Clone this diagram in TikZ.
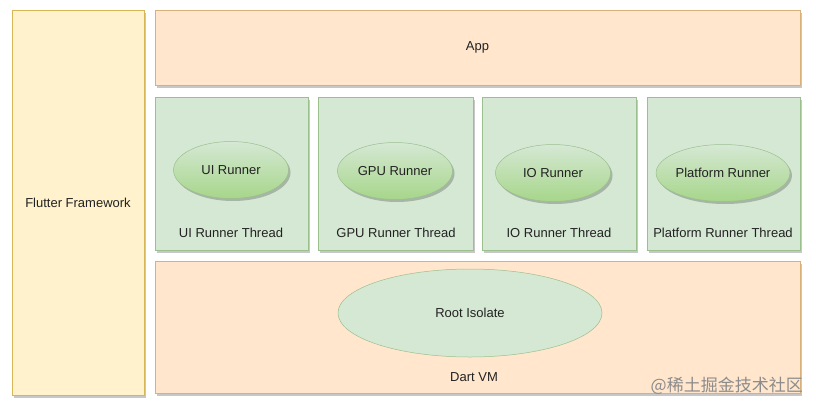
\documentclass[tikz,border=0pt]{standalone}
\usepackage{fontspec}
\setmainfont{Liberation Sans}
\newfontfamily\cjk{Noto Sans CJK SC}
\usetikzlibrary{shapes.geometric,shadows}
\definecolor{fwfill}{HTML}{FFF2CC}
\definecolor{fwdraw}{HTML}{D6B656}
\definecolor{appfill}{HTML}{FFE6CC}
\definecolor{appdraw}{HTML}{D7B07A}
\definecolor{thfill}{HTML}{D5E8D4}
\definecolor{thdraw}{HTML}{9CBF8E}
\definecolor{ellbot}{HTML}{A7D68A}
\definecolor{txt}{HTML}{222222}
\tikzset{
  shad/.style={drop shadow={shadow xshift=2pt,shadow yshift=-2.5pt,fill=black,opacity=0.22}},
  tfont/.style={font=\fontsize{13}{15}\selectfont},
  base/.style={rectangle,inner sep=0pt,outer sep=0pt,line width=0.6pt,text=txt,tfont,shad},
  fwbox/.style={base,fill=fwfill,draw=fwdraw},
  appbox/.style={base,fill=appfill,draw=appdraw},
  thbox/.style={base,fill=thfill,draw=thdraw},
  runner/.style={ellipse,inner sep=0pt,minimum width=115pt,minimum height=57pt,draw=thdraw,line width=0.5pt,top color=thfill,bottom color=ellbot,text=txt,tfont,shad},
  rootell/.style={ellipse,inner sep=0pt,minimum width=264pt,minimum height=88pt,draw=thdraw,line width=0.5pt,fill=thfill,text=txt,tfont},
  lbl/.style={text=txt,tfont,inner sep=0pt}
}
\begin{document}
\begin{tikzpicture}[x=1pt,y=-1pt]
\useasboundingbox[fill=white] (0,0) rectangle (816,410);
\node[fwbox,minimum width=132pt,minimum height=385pt] (ff) at (78,202.5) {Flutter Framework};
\node[appbox,minimum width=645pt,minimum height=75pt] (app) at (477.5,47.5) {App};
\node[thbox,minimum width=153pt,minimum height=153pt] (t1) at (231.5,173.5) {};
\node[thbox,minimum width=155pt,minimum height=153pt] (t2) at (395.5,173.5) {};
\node[thbox,minimum width=154pt,minimum height=153pt] (t3) at (559,173.5) {};
\node[thbox,minimum width=153pt,minimum height=153pt] (t4) at (723.5,173.5) {};
\node[runner] (r1) at (231,170) {UI Runner};
\node[runner] (r2) at (395,171) {GPU Runner};
\node[runner] (r3) at (553,173) {IO Runner};
\node[runner] (r4) at (723,173) {Platform Runner};
\node[lbl] (l1) at (231,233) {UI Runner Thread};
\node[lbl] (l2) at (396,233) {GPU Runner Thread};
\node[lbl] (l3) at (559,233) {IO Runner Thread};
\node[lbl] (l4) at (723,233) {Platform Runner Thread};
\node[appbox,minimum width=645pt,minimum height=132pt] (vm) at (477.5,327) {};
\node[rootell] (root) at (470,313) {Root Isolate};
\node[lbl] (vml) at (474,377) {Dart VM};
\node[anchor=east,inner sep=0pt,text=black!45,font=\cjk\fontsize{17}{19}\selectfont] (wm) at (803,386) {@稀土掘金技术社区};
\end{tikzpicture}
\end{document}
